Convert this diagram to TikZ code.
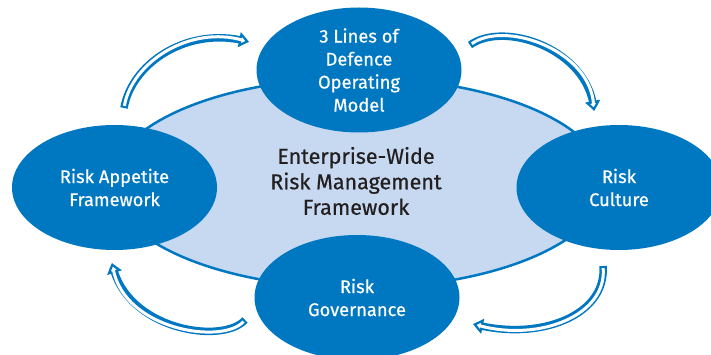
\documentclass[tikz,border=0pt]{standalone}
\usepackage{fontspec}
\setmainfont{Fira Sans}[FakeBold=0.5]
\usetikzlibrary{shapes.geometric,arrows.meta,bending}
\definecolor{rblue}{HTML}{0077C1}
\definecolor{rlight}{HTML}{C6D9F0}
\definecolor{rtext}{HTML}{231F20}
\tikzset{
  sat/.style={ellipse, fill=rblue, minimum width=205pt, minimum height=125pt,
    inner sep=0pt, text=white, align=center, font=\fontsize{18.3}{23}\selectfont},
  hub/.style={ellipse, fill=rlight, draw=rblue, line width=2.5pt,
    minimum width=494pt, minimum height=210pt, inner sep=0pt},
  hubtxt/.style={text=rtext, align=center, font=\fontsize{21.5}{25.5}\selectfont},
  cycout/.style={rblue, line width=7.5pt, line cap=butt,
    -{Triangle[length=10pt, width=15pt, fill=white, line width=2.2pt, bend]}},
  cycin/.style={white, line width=3pt, line cap=butt, shorten <=2.2pt, shorten >=6.5pt}
}
\newcommand\cycarrow[4]{%
  \draw[cycout] (#1) .. controls (#2) and (#3) .. (#4);
  \draw[cycin] (#1) .. controls (#2) and (#3) .. (#4);}
\begin{document}
\begin{tikzpicture}[x=1pt,y=-1pt]
\useasboundingbox (0,0) rectangle (711,355);
\clip (0,0) rectangle (711,355);
\node[hub] (hub) at (358,183) {};
\node[sat] (top) at (359,70) {3 Lines of\\Defence\\Operating\\Model};
\node[sat] (left) at (114.5,187.5) {Risk Appetite\\Framework};
\node[sat] (right) at (619,187.5) {Risk\\Culture};
\node[sat] (bottom) at (357,297.5) {Risk\\Governance};
\node[hubtxt] (hubtext) at (356,181) {Enterprise-Wide\\Risk Management\\Framework};
% cycle arrows
\coordinate (a1s) at (124,108); \coordinate (a1e) at (249,42);
\coordinate (a2s) at (470,45);  \coordinate (a2e) at (594,111);
\coordinate (a3s) at (245,320); \coordinate (a3e) at (112,263);
\coordinate (a4s) at (603,266); \coordinate (a4e) at (473,324);
\cycarrow{a1s}{132,62}{190,25}{a1e}
\cycarrow{a2s}{505,20}{590,50}{a2e}
\cycarrow{a3s}{222,345}{125,330}{a3e}
\cycarrow{a4s}{607,315}{540,342}{a4e}
\end{tikzpicture}
\end{document}
